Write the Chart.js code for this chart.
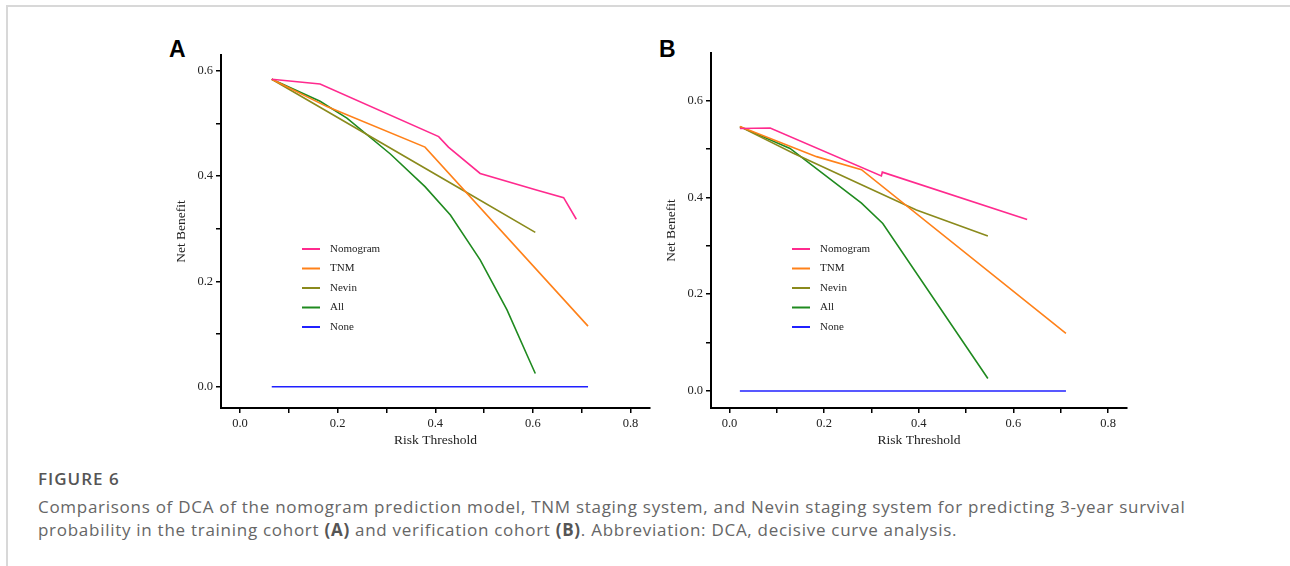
<!DOCTYPE html>
<html>
<head>
<meta charset="utf-8">
<script src="https://cdn.jsdelivr.net/npm/chart.js@4"></script>
<style>
  html, body { margin: 0; padding: 0; background: #fff; width: 1290px; height: 566px; overflow: hidden; }
  .frame { position: absolute; left: 6px; top: 5px; width: 1400px; height: 700px;
           border-top: 2px solid #d8d8d8; border-left: 2px solid #d8d8d8; }
  canvas { position: absolute; }
  .panel-tag { position: absolute; font: bold 23px "Liberation Sans", Arial, sans-serif; color: #000; }
  .caption-head { position: absolute; left: 38px; top: 467px; font: 600 17px "Open Sans", sans-serif;
                  letter-spacing: 1px; color: #555; }
  .caption { position: absolute; left: 38px; top: 495px; white-space: nowrap;
             font: 17px/23px "Open Sans", sans-serif; letter-spacing: 0.72px; color: #666; }
  .caption b { color: #555; }
</style>
</head>
<body>
<div class="frame"></div>
<div class="panel-tag" style="left:169px; top:36px;">A</div>
<div class="panel-tag" style="left:659px; top:36px;">B</div>
<canvas id="chartA" width="491" height="413" style="left:169px; top:40px;"></canvas>
<canvas id="chartB" width="478" height="413" style="left:659px; top:40px;"></canvas>
<div class="caption-head">FIGURE 6</div>
<div class="caption">Comparisons of DCA of the nomogram prediction model, TNM staging system, and Nevin staging system for predicting 3-year survival<br>probability in the training cohort <b>(A)</b> and verification cohort <b>(B)</b>. Abbreviation: DCA, decisive curve analysis.</div>

<script>
// series names and colours
const seriesNames = ['Nomogram', 'TNM', 'Nevin', 'All', 'None'];
const seriesColors = ['#ff2a8e', '#ff8119', '#8a8a1c', '#1f8a1f', '#2020ff'];

// tick positions
const xTicks = [0, 0.1, 0.2, 0.3, 0.4, 0.5, 0.6, 0.7, 0.8];
const yTicks = [0, 0.1, 0.2, 0.3, 0.4, 0.5, 0.6];

// training cohort (A)
const nomogramAx = [0.065, 0.164, 0.407, 0.427, 0.492, 0.609, 0.663, 0.689];
const nomogramAy = [0.584, 0.575, 0.475, 0.455, 0.405, 0.373, 0.359, 0.318];
const tnmAx = [0.065, 0.178, 0.379, 0.713];
const tnmAy = [0.584, 0.532, 0.455, 0.115];
const nevinAx = [0.065, 0.455, 0.605];
const nevinAy = [0.584, 0.374, 0.293];
const allAx = [0.065, 0.164, 0.219, 0.308, 0.379, 0.431, 0.492, 0.547, 0.591, 0.605];
const allAy = [0.584, 0.542, 0.510, 0.442, 0.380, 0.326, 0.241, 0.146, 0.054, 0.025];
const noneAx = [0.065, 0.713];
const noneAy = [0, 0];

// verification cohort (B)
const nomogramBx = [0.022, 0.086, 0.321, 0.323, 0.629];
const nomogramBy = [0.542, 0.543, 0.444, 0.452, 0.354];
const tnmBx = [0.022, 0.184, 0.279, 0.711];
const tnmBy = [0.546, 0.484, 0.457, 0.119];
const nevinBx = [0.022, 0.135, 0.279, 0.395, 0.546];
const nevinBy = [0.546, 0.491, 0.426, 0.374, 0.320];
const allBx = [0.022, 0.128, 0.279, 0.324, 0.546];
const allBy = [0.546, 0.501, 0.388, 0.346, 0.026];
const noneBx = [0.022, 0.711];
const noneBy = [0, 0];

const serif = '"Liberation Serif", "Times New Roman", serif';

const toPoints = (xs, ys) => xs.map((x, i) => ({ x: x, y: ys[i] }));

function makeDatasets(pairs) {
    return pairs.map((p, i) => ({
        label: seriesNames[i],
        data: toPoints(p[0], p[1]),
        borderColor: seriesColors[i],
        borderWidth: 1.6,
        pointRadius: 0,
        showLine: true,
        tension: 0
    }));
}

// draws the legend inside the plot area
const insideLegend = {
    id: 'insideLegend',
    afterDatasetsDraw(chart, args, opts) {
        const ctx = chart.ctx;
        const area = chart.chartArea;
        ctx.save();
        ctx.font = '11px ' + serif;
        ctx.textBaseline = 'middle';
        chart.data.datasets.forEach((ds, i) => {
            const y = area.top + opts.y + i * opts.gap;
            const x = area.left + opts.x;
            ctx.strokeStyle = ds.borderColor;
            ctx.lineWidth = 2;
            ctx.beginPath();
            ctx.moveTo(x, y);
            ctx.lineTo(x + 18, y);
            ctx.stroke();
            ctx.fillStyle = '#222';
            ctx.fillText(ds.label, x + 28, y);
        });
        ctx.restore();
    }
};

function axisStyle(title, ticks, min, max, size) {
    return {
        type: 'linear',
        min: min,
        max: max,
        afterBuildTicks: (axis) => { axis.ticks = ticks.map(v => ({ value: v })); },
        afterFit: (axis) => {
            if (axis.isHorizontal()) axis.height = size; else axis.width = size;
        },
        ticks: {
            autoSkip: false,
            maxRotation: 0,
            padding: 3,
            color: '#222',
            font: { family: serif, size: 12.5 },
            callback: (v) => (Math.round(v * 10) % 2 === 0 ? v.toFixed(1) : '')
        },
        grid: {
            display: true,
            drawOnChartArea: false,
            drawTicks: true,
            tickLength: 5,
            color: '#000',
            lineWidth: 1.5
        },
        border: { display: true, color: '#000', width: 2 },
        title: {
            display: true,
            text: title,
            color: '#222',
            font: { family: serif, size: 13.5 },
            padding: { top: 4, bottom: 4 }
        }
    };
}

function renderPanel(id, datasets, yMin, yMax, pad, legendPos) {
    const ctx = document.getElementById(id).getContext('2d');
    return new Chart(ctx, {
        type: 'scatter',
        data: { datasets: datasets },
        options: {
            responsive: false,
            animation: false,
            devicePixelRatio: 1,
            layout: { padding: pad },
            scales: {
                x: axisStyle('Risk Threshold', xTicks, -0.039, 0.84, 45),
                y: axisStyle('Net Benefit', yTicks, yMin, yMax, 52)
            },
            plugins: {
                legend: { display: false },
                tooltip: { enabled: false },
                insideLegend: legendPos
            }
        },
        plugins: [insideLegend]
    });
}

renderPanel('chartA', makeDatasets([
    [nomogramAx, nomogramAy],
    [tnmAx, tnmAy],
    [nevinAx, nevinAy],
    [allAx, allAy],
    [noneAx, noneAy]
]), -0.0405, 0.630, { top: 15, right: 10, left: 0, bottom: 0 }, { x: 81, y: 194, gap: 19.5 });

renderPanel('chartB', makeDatasets([
    [nomogramBx, nomogramBy],
    [tnmBx, tnmBy],
    [nevinBx, nevinBy],
    [allBx, allBy],
    [noneBx, noneBy]
]), -0.035, 0.698, { top: 13, right: 10, left: 0, bottom: 0 }, { x: 81, y: 196, gap: 19.5 });
</script>
</body>
</html>
